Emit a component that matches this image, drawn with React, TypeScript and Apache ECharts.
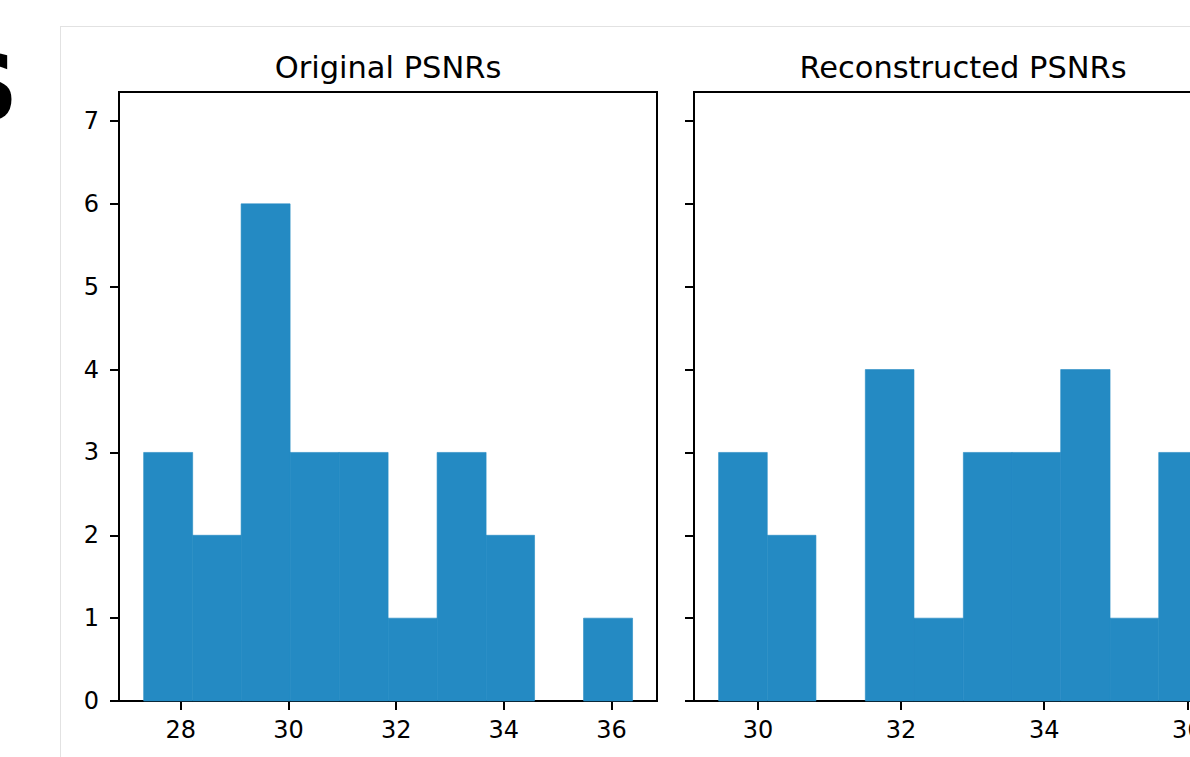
import React, { useEffect, useRef } from "react";
import * as echarts from "echarts";

const origEdges = [27.31, 28.22, 29.12, 30.03, 30.94, 31.85, 32.76, 33.67, 34.57, 35.48, 36.39];
const origCounts = [3, 2, 6, 3, 3, 1, 3, 2, 0, 1];
const reconEdges = [29.45, 30.13, 30.81, 31.5, 32.18, 32.87, 33.55, 34.23, 34.92, 35.6, 36.28];
const reconCounts = [3, 2, 0, 4, 1, 3, 3, 4, 1, 3];
const origTicks = [28, 30, 32, 34, 36];
const reconTicks = [30, 32, 34, 36];
const yTicks = [0, 1, 2, 3, 4, 5, 6, 7];
const titles = ["Original PSNRs", "Reconstructed PSNRs"];

const BAR = "#248ac3";
const FONT = "DejaVu Sans";

function binsOf(edges: number[], counts: number[]) {
  return counts.map((c, i) => [edges[i], edges[i + 1], c]);
}

const renderBar = (params: any, api: any) => {
  const x0 = api.value(0);
  const x1 = api.value(1);
  const c = api.value(2);
  const p0 = api.coord([x0, c]);
  const p1 = api.coord([x1, 0]);
  return {
    type: "rect",
    shape: { x: p0[0], y: p0[1], width: p1[0] - p0[0], height: p1[1] - p0[1] },
    style: c > 0 ? { fill: BAR, stroke: BAR, lineWidth: 0.6 } : { fill: "none", stroke: "none" },
  };
};

export default function App() {
  const ref = useRef<HTMLDivElement>(null);
  useEffect(() => {
    if (!ref.current) return;
    const chart = echarts.init(ref.current, null, { renderer: "svg" });
    const xAxisCommon = (idx: number, min: number, max: number, ticks: number[]) => ({
      type: "value",
      gridIndex: idx,
      min,
      max,
      axisLine: { show: true, onZero: false, lineStyle: { color: "#000", width: 2 } },
      axisTick: { show: true, inside: false, length: 9, customValues: ticks, lineStyle: { color: "#000", width: 2 } },
      axisLabel: { show: true, customValues: ticks, margin: 17, fontSize: 24, color: "#000", fontFamily: FONT },
      splitLine: { show: false },
    });
    const yAxisCommon = (idx: number, showLabel: boolean) => ({
      type: "value",
      gridIndex: idx,
      min: 0,
      max: 7.35,
      axisLine: { show: true, lineStyle: { color: "#000", width: 2 } },
      axisTick: { show: true, inside: false, length: 9, customValues: yTicks, lineStyle: { color: "#000", width: 2 } },
      axisLabel: { show: showLabel, customValues: yTicks, margin: 20, fontSize: 24, color: "#000", fontFamily: FONT },
      splitLine: { show: false },
    });
    chart.setOption({
      animation: false,
      backgroundColor: "#fff",
      textStyle: { fontFamily: FONT },
      grid: [
        { left: 119, top: 92, width: 538, height: 609, show: true, borderColor: "#000", borderWidth: 2, backgroundColor: "transparent" },
        { left: 694, top: 92, width: 538, height: 609, show: true, borderColor: "#000", borderWidth: 2, backgroundColor: "transparent" },
      ],
      xAxis: [
        xAxisCommon(0, 26.852, 36.844, origTicks),
        xAxisCommon(1, 29.106, 36.624, reconTicks),
      ],
      yAxis: [yAxisCommon(0, true), yAxisCommon(1, false)],
      series: [
        {
          type: "custom",
          xAxisIndex: 0,
          yAxisIndex: 0,
          renderItem: renderBar,
          encode: { x: [0, 1], y: 2 },
          data: binsOf(origEdges, origCounts),
        },
        {
          type: "custom",
          xAxisIndex: 1,
          yAxisIndex: 1,
          renderItem: renderBar,
          encode: { x: [0, 1], y: 2 },
          data: binsOf(reconEdges, reconCounts),
        },
      ],
      graphic: [
        { type: "line", shape: { x1: 60, y1: 26.5, x2: 1290, y2: 26.5 }, style: { stroke: "#e2e2e2", lineWidth: 1 }, silent: true },
        { type: "line", shape: { x1: 60.5, y1: 26, x2: 60.5, y2: 757 }, style: { stroke: "#e2e2e2", lineWidth: 1 }, silent: true },
        {
          type: "text",
          x: 18,
          y: 88,
          style: { text: "S", font: "bold 90px 'DejaVu Sans'", fill: "#000", align: "right", verticalAlign: "middle" },
          silent: true,
        },
        {
          type: "text",
          x: 388,
          y: 67,
          style: { text: titles[0], font: `30.5px '${FONT}'`, fill: "#000", align: "center", verticalAlign: "middle" },
          silent: true,
        },
        {
          type: "text",
          x: 963,
          y: 67,
          style: { text: titles[1], font: `30.5px '${FONT}'`, fill: "#000", align: "center", verticalAlign: "middle" },
          silent: true,
        },
      ],
    });
    return () => chart.dispose();
  }, []);
  return (
    <div style={{ position: "fixed", left: 0, top: 0, width: 1190, height: 757, overflow: "hidden", background: "#fff" }}>
      <div ref={ref} style={{ position: "absolute", left: 0, top: 0, width: 1290, height: 757 }} />
    </div>
  );
}
